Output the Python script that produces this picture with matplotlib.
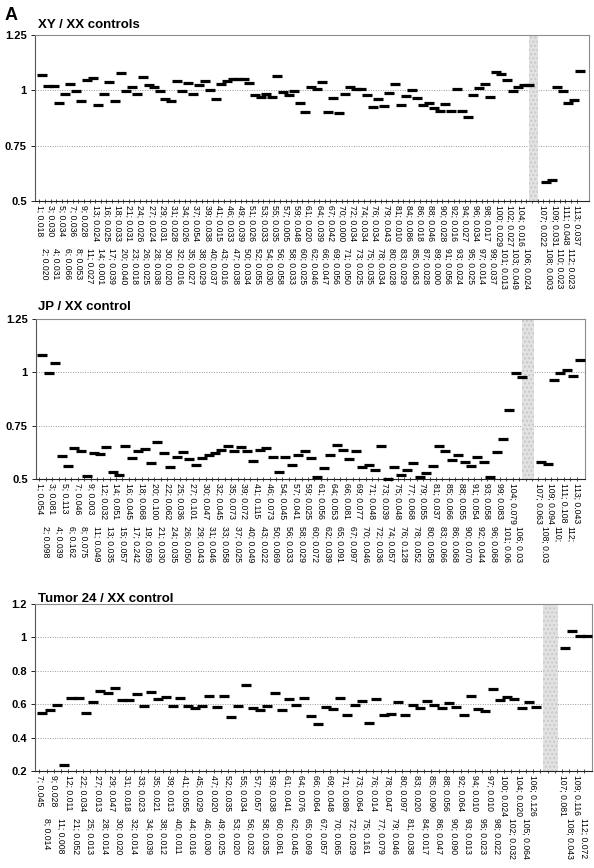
import numpy as np
import matplotlib
matplotlib.use("Agg")
import matplotlib.pyplot as plt
from matplotlib.transforms import ScaledTranslation
from matplotlib.ticker import FormatStrFormatter

plt.rcParams['font.family'] = ['Liberation Sans', 'DejaVu Sans']

# ---- XY / XX controls ----
xy_labels_pre = [
    "1; 0.018", "2; 0.020", "3; 0.030", "4; 0.031", "5; 0.034", "6; 0.066", "7; 0.036", "8; 0.053",
    "9; 0.028", "11; 0.027", "13; 0.024", "14; 0.001", "16; 0.025", "17; 0.039", "18; 0.033",
    "20; 0.040", "21; 0.031", "23; 0.018", "24; 0.026", "26; 0.025", "27; 0.024", "28; 0.038",
    "29; 0.031", "30; 0.020", "31; 0.028", "32; 0.016", "34; 0.026", "35; 0.027", "37; 0.054",
    "38; 0.029", "39; 0.038", "40; 0.037", "41; 0.015", "43; 0.016", "46; 0.033", "47; 0.038",
    "49; 0.039", "50; 0.034", "51; 0.026", "52; 0.055", "53; 0.033", "54; 0.030", "55; 0.035",
    "56; 0.058", "57; 0.005", "58; 0.033", "59; 0.048", "60; 0.025", "61; 0.020", "62; 0.046",
    "64; 0.039", "66; 0.047", "67; 0.042", "69; 0.056", "70; 0.000", "71; 0.050", "72; 0.034",
    "73; 0.025", "74; 0.034", "75; 0.035", "76; 0.034", "78; 0.034", "79; 0.043", "80; 0.028",
    "81; 0.010", "83; 0.029", "84; 0.086", "85; 0.063", "86; 0.018", "87; 0.028", "88; 0.046",
    "89; 0.000", "90; 0.028", "91; 0.056", "92; 0.016", "93; 0.024", "94; 0.027", "95; 0.025",
    "96; 0.034", "97; 0.014", "98; 0.017", "99; 0.037", "100; 0.029", "101; 0.013", "102; 0.027",
    "103; 0.049", "104; 0.016", "106; 0.024"]
xy_values_pre = [
    1.070, 1.018, 1.018, 0.941, 0.982, 1.028, 0.995, 0.953, 1.046, 1.054,
    0.935, 0.982, 1.037, 0.954, 1.077, 0.998, 1.015, 0.985, 1.061, 1.025,
    1.016, 0.997, 0.960, 0.953, 1.043, 0.997, 1.031, 0.985, 1.025, 1.043,
    1.000, 0.962, 1.030, 1.043, 1.049, 1.049, 1.051, 1.031, 0.979, 0.968,
    0.985, 0.968, 1.063, 0.993, 0.980, 0.998, 0.945, 0.903,
    1.013, 1.004, 1.036, 0.902, 0.966, 0.896, 0.983, 1.015, 1.006, 1.007,
    0.979, 0.924, 0.962, 0.929, 0.986, 1.028, 0.933, 0.975, 1.001, 0.965,
    0.933, 0.945, 0.918, 0.905, 0.939, 0.905, 1.004, 0.905, 0.880, 0.977,
    1.012, 1.028, 0.971, 1.081, 1.074, 1.045, 0.998, 1.016, 1.024, 1.024]
xy_labels_post = ["107; 0.022", "108; 0.003", "109; 0.031", "110; 0.023",
                  "111; 0.048", "112; 0.023", "113; 0.037"]
xy_values_post = [0.588, 0.595, 1.016, 0.995, 0.941, 0.956, 1.086]
xy_gap = 2

# ---- JP / XX control ----
jp_labels_pre = [
    "1; 0.054", "2; 0.098", "3; 0.081", "4; 0.039", "5; 0.113", "6; 0.162", "7; 0.046", "8; 0.075",
    "9; 0.003", "11; 0.049", "12; 0.032", "13; 0.035", "14; 0.051", "15; 0.057", "16; 0.045",
    "17; 0.242", "18; 0.068", "19; 0.059", "20; 0.100", "21; 0.030", "22; 0.062", "24; 0.035",
    "25; 0.036", "26; 0.050", "27; 0.101", "29; 0.043", "30; 0.047", "31; 0.046", "32; 0.045",
    "33; 0.058", "35; 0.073", "37; 0.025", "39; 0.072", "40; 0.049", "41; 0.115", "43; 0.022",
    "46; 0.073", "50; 0.069", "54; 0.045", "56; 0.033", "57; 0.041", "58; 0.029", "59; 0.025",
    "60; 0.072", "61; 0.056", "62; 0.039", "64; 0.053", "65; 0.091", "66; 0.081", "67; 0.097",
    "69; 0.077", "70; 0.046", "71; 0.048", "72; 0.036", "73; 0.039", "74; 0.057", "75; 0.048",
    "76; 0.128", "77; 0.068", "78; 0.052", "79; 0.055", "80; 0.058", "81; 0.037", "83; 0.066",
    "85; 0.066", "86; 0.068", "88; 0.055", "90; 0.070", "91; 0.054", "92; 0.044", "93; 0.058",
    "96; 0.068", "99; 0.083", "101; 0.06", "104; 0.079", "106; 0.03"]
jp_values_pre = [
    1.081, 0.998, 1.044, 0.609, 0.562, 0.647, 0.630, 0.516, 0.620, 0.619,
    0.650, 0.533, 0.520, 0.653, 0.600, 0.633, 0.639, 0.577, 0.673, 0.622,
    0.558, 0.602, 0.627, 0.594, 0.566, 0.600, 0.611, 0.623, 0.636, 0.656,
    0.633, 0.650, 0.631, 0.586, 0.636, 0.645, 0.603, 0.533, 0.602, 0.566,
    0.611, 0.633,
    0.597, 0.508, 0.550, 0.611, 0.661, 0.634, 0.592, 0.633, 0.556, 0.566,
    0.541, 0.653, 0.500, 0.558, 0.520, 0.544, 0.577, 0.509, 0.528, 0.561,
    0.655, 0.631, 0.589, 0.613, 0.580, 0.559, 0.603, 0.580, 0.508, 0.628,
    0.686, 0.822, 0.995, 0.978]
jp_labels_post = ["107; 0.063", "108; 0.03", "109; 0.094", "110;",
                  "111; 0.108", "112;", "113; 0.043"]
jp_values_post = [0.581, 0.569, 0.963, 0.995, 1.009, 0.984, 1.056]
jp_gap = 2

# ---- Tumor 24 / XX control ----
tu_labels_pre = [
    "7; 0.045", "8; 0.014", "9; 0.028", "11; 0.008", "12; 0.011", "21; 0.052", "22; 0.034",
    "25; 0.013", "27; 0.013", "28; 0.014", "29; 0.047", "30; 0.020", "31; 0.018", "32; 0.014",
    "33; 0.023", "34; 0.039", "35; 0.021", "38; 0.012", "39; 0.013", "40; 0.011", "41; 0.055",
    "44; 0.016", "45; 0.029", "46; 0.030", "47; 0.020", "49; 0.025", "52; 0.035", "53; 0.020",
    "55; 0.034", "56; 0.032", "57; 0.057", "58; 0.035", "59; 0.038", "60; 0.061", "61; 0.041",
    "62; 0.045", "64; 0.076", "65; 0.069", "66; 0.064", "67; 0.057", "69; 0.048", "70; 0.065",
    "71; 0.089", "72; 0.029", "73; 0.064", "75; 0.161", "76; 0.014", "77; 0.079", "78; 0.047",
    "79; 0.046", "80; 0.097", "81; 0.038", "83; 0.020", "84; 0.017", "85; 0.090", "86; 0.047",
    "88; 0.056", "90; 0.090", "92; 0.064", "93; 0.013", "94; 0.010", "95; 0.023", "97; 0.010",
    "98; 0.022", "100; 0.024", "102; 0.032", "104; 0.020", "105; 0.064", "106; 0.126"]
tu_values_pre = [
    0.546, 0.564, 0.596, 0.236, 0.638, 0.638, 0.546, 0.616, 0.680, 0.666,
    0.696, 0.624, 0.624, 0.660, 0.590, 0.676, 0.630, 0.642, 0.588, 0.640,
    0.592, 0.580, 0.588, 0.648, 0.584, 0.648, 0.526, 0.588, 0.712, 0.578,
    0.568, 0.590, 0.666, 0.564, 0.634, 0.598,
    0.640, 0.528, 0.480, 0.586, 0.574, 0.640, 0.534, 0.598, 0.620, 0.486,
    0.634, 0.538, 0.542, 0.614, 0.534, 0.596, 0.576, 0.618, 0.596, 0.578,
    0.608, 0.586, 0.538, 0.648, 0.570, 0.562, 0.692, 0.626, 0.642, 0.634,
    0.580, 0.614, 0.582]
tu_labels_post = ["107; 0.081", "108; 0.043", "109; 0.116", "112; 0.072"]
tu_values_post = [0.936, 1.040, 1.006, 1.006]
tu_gap = 3

W, H = 594, 868
fig = plt.figure(figsize=(W / 100, H / 100), dpi=100)


def px_rect(left, top, right, bottom):
    return [left / W, 1 - bottom / H, (right - left) / W, (bottom - top) / H]


def draw_panel(rect, title, title_y, labels_pre, values_pre, labels_post, values_post,
               n_gap, ylim, ystep, xlim, band, ms):
    ax = fig.add_axes(rect)
    labels = labels_pre + [""] * n_gap + labels_post
    values = np.concatenate([values_pre, np.full(n_gap, np.nan), values_post])
    x = np.arange(len(labels))

    ax.axvspan(band[0], band[1], facecolor="#e2e2e2", edgecolor="#c8c8c8",
               hatch="....", lw=0, zorder=1)
    shift = ax.transData + ScaledTranslation(3 / 100, 0, fig.dpi_scale_trans)
    ax.plot(x, values, ls="none", marker="_", ms=ms, mew=2.3, color="black",
            transform=shift, zorder=3, clip_on=False)

    ax.set_xlim(*xlim)
    ax.set_ylim(*ylim)
    ax.set_yticks(np.arange(ylim[0], ylim[1] + 1e-9, ystep))
    ax.yaxis.set_major_formatter(FormatStrFormatter("%g"))
    ax.yaxis.grid(True, ls=(0, (1, 1.5)), color="#9a9a9a", lw=0.7)
    ax.set_axisbelow(True)

    # staggered category labels: two rows
    ax.set_xticks(x[0::2], labels=labels[0::2])
    ax.set_xticks(x[1::2], labels=labels[1::2], minor=True)
    ax.tick_params(axis="x", which="both", direction="inout", length=3, width=0.6,
                   labelsize=6.2, labelrotation=-90, color="#333333")
    ax.tick_params(axis="x", which="major", pad=1.5)
    ax.tick_params(axis="x", which="minor", pad=32)
    for lab in ax.get_xticklabels(minor=False) + ax.get_xticklabels(minor=True):
        lab.set_va("top")
        lab.set_ha("center")
    ax.tick_params(axis="y", direction="out", length=3, width=0.6, pad=3,
                   labelsize=8)
    for lab in ax.get_yticklabels():
        lab.set_fontweight("bold")

    for side in ("top", "right"):
        ax.spines[side].set_color("#8c8c8c")
        ax.spines[side].set_linewidth(0.8)
    ax.spines["left"].set_color("#555555")
    ax.spines["bottom"].set_color("#222222")
    for side in ("left", "bottom"):
        ax.spines[side].set_linewidth(0.8)

    fig.text(38 / W, 1 - title_y / H, title, fontsize=9.5, fontweight="bold",
             va="baseline", ha="left")
    return ax


draw_panel(px_rect(35, 35, 589, 201), "XY / XX controls", 28,
           xy_labels_pre, xy_values_pre, xy_labels_post, xy_values_post, xy_gap,
           (0.5, 1.25), 0.25, (-0.77, 98.2), (87.4, 89.0), 7.2)
draw_panel(px_rect(36, 319, 585, 479), "JP / XX control", 310,
           jp_labels_pre, jp_values_pre, jp_labels_post, jp_values_post, jp_gap,
           (0.5, 1.25), 0.25, (-0.52, 85.3), (75.4, 77.3), 6.5)
draw_panel(px_rect(35, 604, 592, 771), "Tumor 24 / XX control", 602,
           tu_labels_pre, tu_values_pre, tu_labels_post, tu_values_post, tu_gap,
           (0.2, 1.2), 0.2, (-0.59, 76.1), (69.3, 71.4), 6.8)

fig.text(5 / W, 1 - 20 / H, "A", fontsize=13, fontweight="bold", va="baseline", ha="left")

fig.savefig("out.png", dpi=100)
